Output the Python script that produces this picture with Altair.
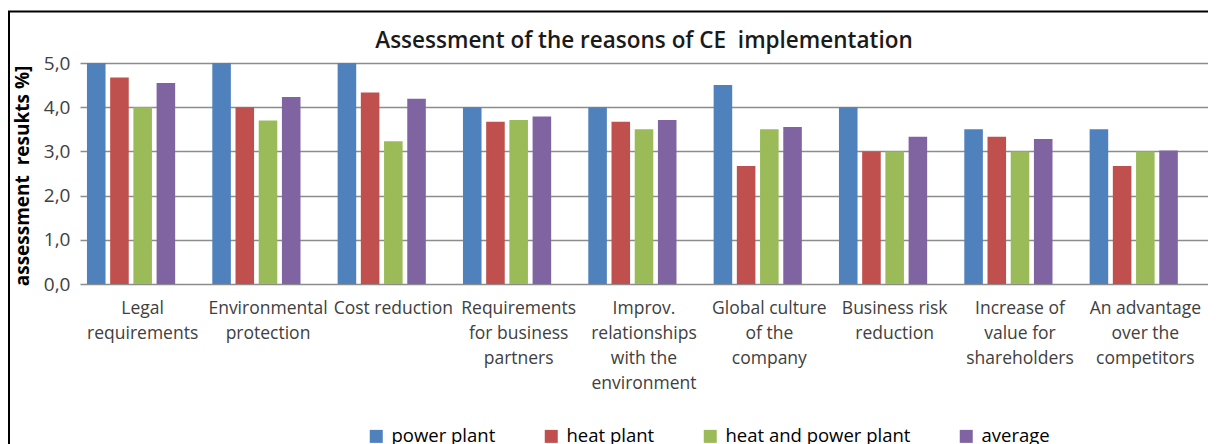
import altair as alt
import pandas as pd

categories = [
    ["Legal", "requirements"],
    ["Environmental", "protection"],
    ["Cost reduction"],
    ["Requirements", "for business", "partners"],
    ["Improv.", "relationships", "with the", "environment"],
    ["Global culture", "of the", "company"],
    ["Business risk", "reduction"],
    ["Increase of", "value for", "shareholders"],
    ["An advantage", "over the", "competitors"],
]
series = ["power plant", "heat plant", "heat and power plant", "average"]
power_plant = [5.0, 5.0, 5.0, 4.0, 4.0, 4.5, 4.0, 3.5, 3.5]
heat_plant = [4.67, 4.0, 4.33, 3.67, 3.67, 2.67, 3.0, 3.33, 2.67]
heat_and_power = [4.0, 3.7, 3.23, 3.71, 3.5, 3.5, 3.0, 3.0, 3.0]
average = [4.55, 4.23, 4.19, 3.79, 3.71, 3.55, 3.33, 3.28, 3.02]
colors = ["#4F81BD", "#C0504D", "#9BBB59", "#8064A2"]
y_ticks = [0, 1, 2, 3, 4, 5]
title_text = "Assessment of the reasons of CE\u00a0 implementation"
y_title = "assessment\u00a0 resukts %]"

cat_keys = ["|".join(c) for c in categories]
rows = []
for s, vals in zip(series, [power_plant, heat_plant, heat_and_power, average]):
    for k, v in zip(cat_keys, vals):
        rows.append({"category": k, "series": s, "value": v})
df = pd.DataFrame(rows)

FONT = "Open Sans"
W, H = 1128, 221

bars = alt.Chart(df).mark_bar().encode(
    x=alt.X("category:N", sort=cat_keys,
            scale=alt.Scale(paddingInner=0, paddingOuter=0),
            axis=alt.Axis(title=None, labelAngle=0, ticks=False, domain=False,
                          labelExpr="split(datum.label, '|')",
                          labelFont=FONT, labelFontSize=17.5, labelColor="#404040",
                          labelPadding=15, labelLineHeight=25, labelBaseline="top",
                          labelLimit=200)),
    xOffset=alt.XOffset("series:N",
                        scale=alt.Scale(domain=series + ["_"], paddingInner=0.2, paddingOuter=0.3)),
    y=alt.Y("value:Q", scale=alt.Scale(domain=[0, 5], nice=False),
            axis=alt.Axis(values=y_ticks, title=y_title,
                          labelExpr="replace(format(datum.value, '.1f'), '.', ',')",
                          labelFont=FONT, labelFontSize=19, labelColor="#404040",
                          labelPadding=10, ticks=False, domain=False,
                          grid=True, gridColor="#8C8C8C", gridWidth=1.5,
                          titleFont=FONT, titleFontSize=19, titleFontWeight="bold",
                          titleColor="#000000", titleAngle=-90, titleX=-58, titleY=H / 2 + 2,
                          titleAlign="center", titleBaseline="middle")),
    color=alt.Color("series:N", sort=series,
                    scale=alt.Scale(domain=series, range=colors),
                    legend=alt.Legend(title=None, orient="none", direction="horizontal",
                                      legendX=287, legendY=364,
                                      symbolType="square", symbolSize=169,
                                      symbolStrokeWidth=0, columnPadding=46,
                                      labelFont=FONT, labelFontSize=18.5, labelLimit=400,
                                      labelColor="#000000", labelOffset=6)),
)

frame_df = pd.DataFrame({"a": [0]})
top_line = alt.Chart(frame_df).mark_rule(color="#000000", strokeWidth=2).encode(
    x=alt.value(-72), x2=alt.value(W + 10), y=alt.value(-51.5))
left_line = alt.Chart(frame_df).mark_rule(color="#000000", strokeWidth=2).encode(
    x=alt.value(-71), y=alt.value(-51.5), y2=alt.value(H + 200))

chart = alt.layer(bars, top_line, left_line).properties(
    width=W, height=H,
    title=alt.TitleParams(title_text,
                          font=FONT, fontSize=22.5, fontWeight=600, color="#1a1a1a",
                          anchor="middle", frame="group", baseline="alphabetic", offset=-60),
    autosize=alt.AutoSizeParams(type="none"),
    padding={"left": 72, "top": 55, "right": 0, "bottom": 160},
).configure_view(stroke=None)

chart.save("out.html", embed_options={"renderer": "svg", "actions": False})
